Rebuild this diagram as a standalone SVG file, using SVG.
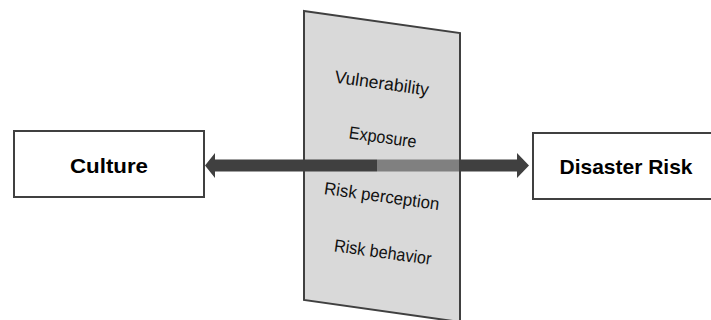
<svg xmlns="http://www.w3.org/2000/svg" width="711" height="320" viewBox="0 0 711 320">
  <style>
    .box { fill: #ffffff; stroke: #404040; stroke-width: 2; }
    .box-label { font-family: "Liberation Sans", Arial, sans-serif; font-weight: bold; font-size: 21px; fill: #000000; text-anchor: middle; }
    .panel { fill: #b8b8b8; fill-opacity: 0.534; stroke: #404040; stroke-width: 2; stroke-linejoin: miter; }
    .factor { font-family: "Liberation Sans", Arial, sans-serif; font-size: 17.5px; fill: #111111; text-anchor: middle; }
    .arrow { fill: #404040; }
  </style>

  <!-- arrow pointing right, running behind the translucent panel -->
  <g id="connectors-back">
    <path class="arrow" d="M377,159.5 H517 V153 L529,165.5 L517,178 V171.5 H377 Z"/>
  </g>

  <!-- translucent panel with the four factors -->
  <g id="factors">
    <polygon class="panel" points="304,11 460,33 460,322 304,300"/>
    <text class="factor" x="381" y="89" transform="rotate(8 381 89)" textLength="95" lengthAdjust="spacingAndGlyphs">Vulnerability</text>
    <text class="factor" x="382" y="143" transform="rotate(8 382 143)" textLength="68" lengthAdjust="spacingAndGlyphs">Exposure</text>
    <text class="factor" x="381" y="202" transform="rotate(8 381 202)" textLength="116" lengthAdjust="spacingAndGlyphs">Risk perception</text>
    <text class="factor" x="382" y="258" transform="rotate(8 382 258)" textLength="98" lengthAdjust="spacingAndGlyphs">Risk behavior</text>
  </g>

  <!-- arrow pointing left, drawn in front of the panel -->
  <g id="connectors">
    <path class="arrow" d="M377,159.5 H215 V153 L205,165.5 L215,178 V171.5 H377 Z"/>
  </g>

  <g id="culture">
    <rect class="box" x="14" y="131" width="190" height="66"/>
    <text class="box-label" x="109" y="173" textLength="78" lengthAdjust="spacingAndGlyphs">Culture</text>
  </g>

  <g id="disaster-risk">
    <rect class="box" x="533" y="133" width="200" height="66"/>
    <text class="box-label" x="626" y="174" textLength="133" lengthAdjust="spacingAndGlyphs">Disaster Risk</text>
  </g>
</svg>
